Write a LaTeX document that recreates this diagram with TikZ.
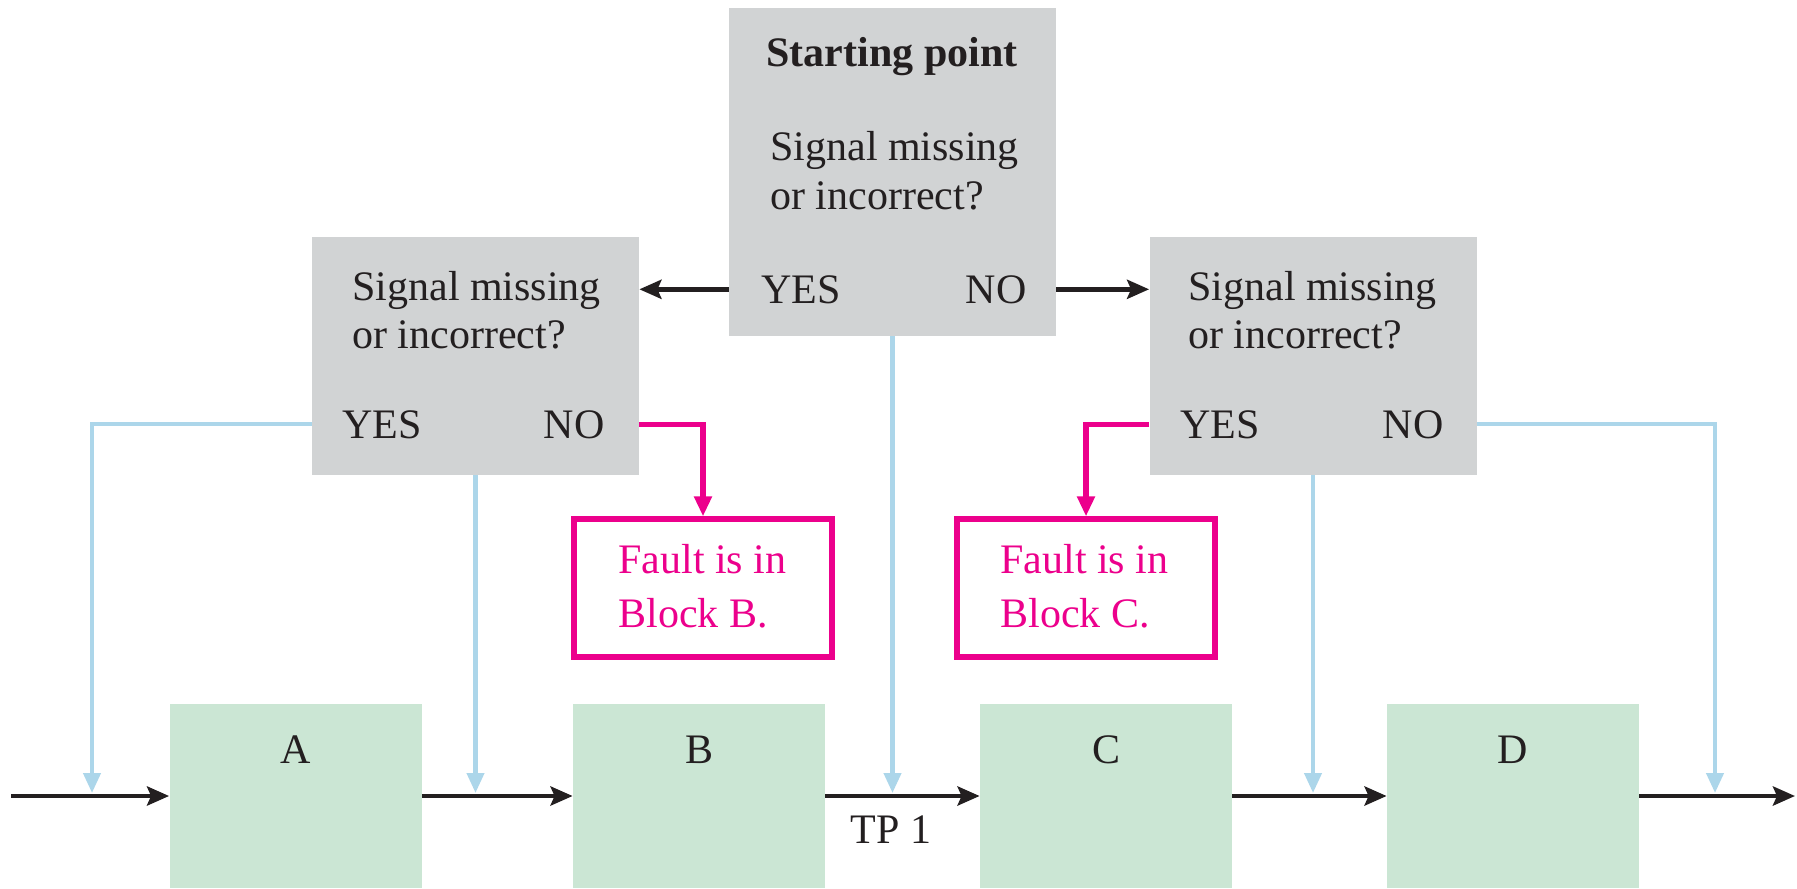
\documentclass[tikz,border=0pt]{standalone}
\usepackage{fontspec}
\setmainfont{Liberation Serif}
\definecolor{customgray}{RGB}{209,211,212}
\definecolor{customgreen}{RGB}{203,230,212}
\definecolor{custompink}{RGB}{236,0,140}
\definecolor{customblue}{RGB}{172,214,234}
\definecolor{customblack}{RGB}{35,31,32}
\usetikzlibrary{arrows.meta}

\begin{document}
\begin{tikzpicture}[x=0.5pt, y=-0.5pt,
    txt/.style={font=\fontsize{21}{24}\selectfont, inner sep=0pt, text=customblack},
    pinktxt/.style={txt, text=custompink},
    askbox/.style={fill=customgray, minimum width=163.5pt, inner sep=0pt},
    blockbox/.style={fill=customgreen, minimum width=126pt, minimum height=92pt, inner sep=0pt},
    faultbox/.style={draw=custompink, line width=2.6pt, fill=white, minimum width=129pt, minimum height=69pt, inner sep=0pt},
    sigline/.style={-{Stealth[length=11pt, width=9.5pt, inset=2pt]}, line width=2.4pt, draw=customblack},
    tapline/.style={-{Triangle[length=10pt, width=8.5pt]}, line width=2.1pt, draw=customblue, shorten >=1.5pt},
    faultline/.style={-{Triangle[length=10pt, width=8.5pt]}, line width=2.6pt, draw=custompink}]
    \useasboundingbox (0,0) rectangle (1797,888);

    % question boxes
    \node[askbox, minimum height=164pt] (start) at (892.5,172) {};
    \node[askbox, minimum height=119pt] (dleft) at (475.5,356) {};
    \node[askbox, minimum height=119pt] (dright) at (1313,356) {};

    \node[txt, anchor=base, font=\fontsize{21}{24}\selectfont\bfseries] (title) at (892,67) {Starting point};
    \node[txt, anchor=base west] (sq1) at (770,160) {Signal missing};
    \node[txt, anchor=base west] (sq2) at (770,209) {or incorrect?};
    \node[txt, anchor=base] (syes) at (801,303) {YES};
    \node[txt, anchor=base] (sno) at (996,303) {NO};

    \node[txt, anchor=base west] (lq1) at (352,300) {Signal missing};
    \node[txt, anchor=base west] (lq2) at (352,348) {or incorrect?};
    \node[txt, anchor=base] (lyes) at (382,438) {YES};
    \node[txt, anchor=base] (lno) at (574,438) {NO};

    \node[txt, anchor=base west] (rq1) at (1188,300) {Signal missing};
    \node[txt, anchor=base west] (rq2) at (1188,348) {or incorrect?};
    \node[txt, anchor=base] (ryes) at (1220,438) {YES};
    \node[txt, anchor=base] (rno) at (1413,438) {NO};

    % fault boxes
    \node[faultbox] (faultB) at (703,588) {};
    \node[pinktxt, anchor=base west] (fb1) at (618,573) {Fault is in};
    \node[pinktxt, anchor=base west] (fb2) at (618,627) {Block B.};
    \node[faultbox] (faultC) at (1086,588) {};
    \node[pinktxt, anchor=base west] (fc1) at (1000,573) {Fault is in};
    \node[pinktxt, anchor=base west] (fc2) at (1000,627) {Block C.};

    % blocks
    \node[blockbox] (A) at (295.5,796) {};
    \node[blockbox] (B) at (699,796) {};
    \node[blockbox] (C) at (1106,796) {};
    \node[blockbox] (D) at (1513,796) {};
    \node[txt, anchor=base] (Alab) at (295.5,763) {A};
    \node[txt, anchor=base] (Blab) at (699,763) {B};
    \node[txt, anchor=base] (Clab) at (1106,763) {C};
    \node[txt, anchor=base] (Dlab) at (1513,763) {D};
    \node[txt, anchor=base] (tp) at (891,843) {TP 1};

    \coordinate (sigin) at (11,796);
    \coordinate (sigout) at (1795,796);
    \coordinate (tapA) at (92,796);
    \coordinate (tapD) at (1715,796);

    % test point taps
    \draw[tapline] (dleft.west |- lyes) -| (tapA);
    \draw[tapline] (dleft.south) -- (dleft.south |- A.east);
    \draw[tapline] (start.south) -- (start.south |- B.east);
    \draw[tapline] (dright.south) -- (dright.south |- C.east);
    \draw[tapline] (dright.east |- rno) -| (tapD);

    % fault paths
    \draw[faultline] (dleft.east |- lno) -| (faultB.north);
    \draw[faultline] (dright.west |- ryes) -| (faultC.north);

    % signal flow
    \draw[sigline] (start.west |- syes) -- (dleft.east |- syes);
    \draw[sigline] (start.east |- sno) -- (dright.west |- sno);
    \draw[sigline] (sigin) -- (A);
    \draw[sigline] (A) -- (B);
    \draw[sigline] (B) -- (C);
    \draw[sigline] (C) -- (D);
    \draw[sigline] (D) -- (sigout);
\end{tikzpicture}
\end{document}
